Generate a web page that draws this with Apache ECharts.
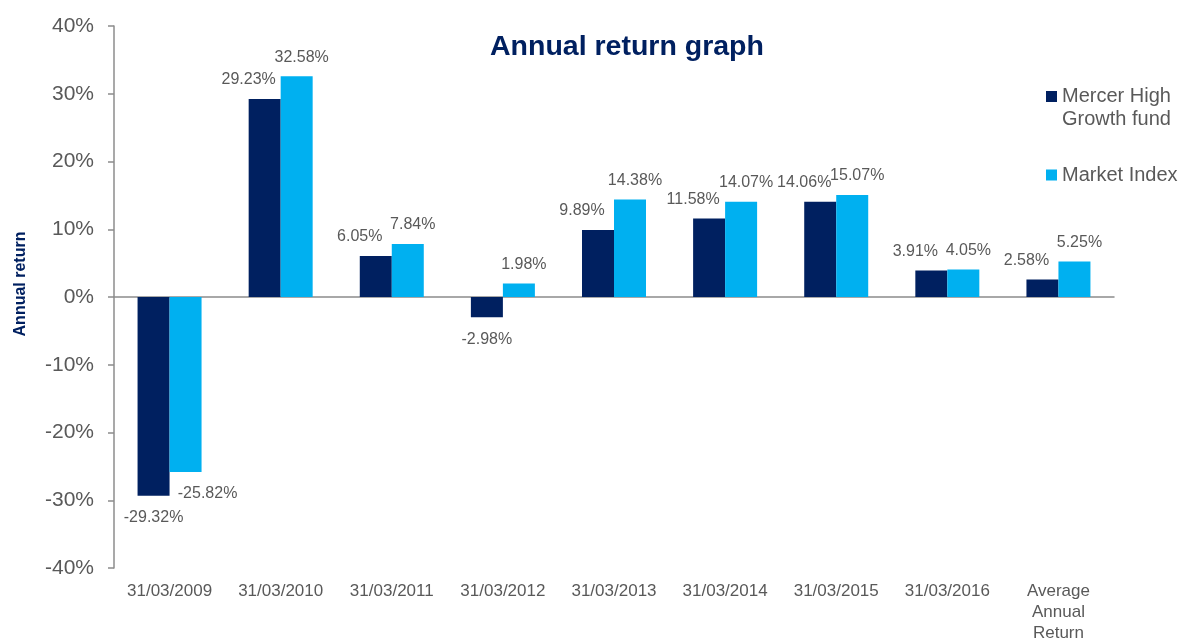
<!DOCTYPE html>
<html>
<head>
<meta charset="utf-8">
<script src="https://cdn.jsdelivr.net/npm/echarts@6/dist/echarts.min.js"></script>
<style>
html,body{margin:0;padding:0;background:#fff;}
#chart{width:1187px;height:639px;}
</style>
</head>
<body>
<div id="chart"></div>
<script>
const categories = ['31/03/2009','31/03/2010','31/03/2011','31/03/2012','31/03/2013','31/03/2014','31/03/2015','31/03/2016','Average\nAnnual\nReturn'];
const fundName = 'Mercer High\nGrowth fund';
const indexName = 'Market Index';
const fundValues = [-29.32, 29.23, 6.05, -2.98, 9.89, 11.58, 14.06, 3.91, 2.58];
const indexValues = [-25.82, 32.58, 7.84, 1.98, 14.38, 14.07, 15.07, 4.05, 5.25];
const yTicks = {min: -40, max: 40, interval: 10};

const FONT = '"Liberation Sans", Arial, sans-serif';
const GREY = '#595959';
const NAVY = '#002060';
const CYAN = '#00B0F0';
const AXIS = '#8c8c8c';

function items(vals, dxPos, dxNeg) {
  return vals.map(v => ({
    value: v,
    label: v < 0
      ? {position: 'bottom', offset: [dxNeg, 0], distance: 14}
      : {position: 'top', offset: [dxPos, 0], distance: 11}
  }));
}

const chart = echarts.init(document.getElementById('chart'), null, {renderer: 'canvas'});
chart.setOption({
  backgroundColor: '#fff',
  animation: false,
  textStyle: {fontFamily: FONT},
  title: {
    text: 'Annual return graph',
    left: 485, top: 28,
    textStyle: {fontFamily: FONT, fontSize: 28.5, fontWeight: 'bold', color: NAVY}
  },
  legend: {
    orient: 'vertical',
    left: 1041, top: 80,
    itemWidth: 11, itemHeight: 46, itemGap: 21,
    textStyle: {fontFamily: FONT, fontSize: 20, color: GREY, lineHeight: 23},
    data: [
      {name: fundName, icon: 'path://M0,0L0.01,0Z M0,6H11V17H0Z M0,46L0.01,46Z'},
      {name: indexName, icon: 'path://M0,0L0.01,0Z M0,17.5H11V28.5H0Z M0,46L0.01,46Z'}
    ]
  },
  graphic: [{
    type: 'text',
    x: 21, y: 284,
    rotation: Math.PI / 2,
    style: {
      text: 'Annual return',
      fontFamily: FONT, fontSize: 16, fontWeight: 'bold', fill: NAVY,
      align: 'center', verticalAlign: 'middle'
    }
  }],
  grid: {left: 114, right: 73, top: 26, bottom: 71, containLabel: false, outerBoundsMode: 'none'},
  xAxis: [{
    type: 'category',
    data: categories,
    position: 'bottom',
    axisLine: {show: false, onZero: false},
    axisTick: {show: false},
    axisLabel: {color: GREY, fontFamily: FONT, fontSize: 17, margin: 13, lineHeight: 21, interval: 0}
  }, {
    type: 'category',
    data: categories,
    position: 'bottom',
    axisLine: {show: true, onZero: true, lineStyle: {color: AXIS, width: 1.5}},
    axisTick: {show: false},
    axisLabel: {show: false}
  }],
  yAxis: {
    type: 'value',
    min: yTicks.min, max: yTicks.max, interval: yTicks.interval,
    axisLine: {show: true, lineStyle: {color: AXIS, width: 1.5}},
    axisTick: {show: true, length: 6, lineStyle: {color: AXIS, width: 1.5}},
    splitLine: {show: false},
    axisLabel: {formatter: '{value}%', color: GREY, fontFamily: FONT, fontSize: 21, margin: 20}
  },
  series: [{
    name: fundName,
    type: 'bar',
    xAxisIndex: 0,
    data: items(fundValues, -16, 0),
    barWidth: 32,
    barGap: '0%',
    itemStyle: {color: NAVY},
    label: {show: true, color: GREY, fontFamily: FONT, fontSize: 16,
      formatter: p => p.value.toFixed(2) + '%'}
  }, {
    name: indexName,
    type: 'bar',
    xAxisIndex: 0,
    data: items(indexValues, 5, 22),
    barWidth: 32,
    barGap: '0%',
    itemStyle: {color: CYAN},
    label: {show: true, color: GREY, fontFamily: FONT, fontSize: 16,
      formatter: p => p.value.toFixed(2) + '%'}
  }]
});
</script>
</body>
</html>
